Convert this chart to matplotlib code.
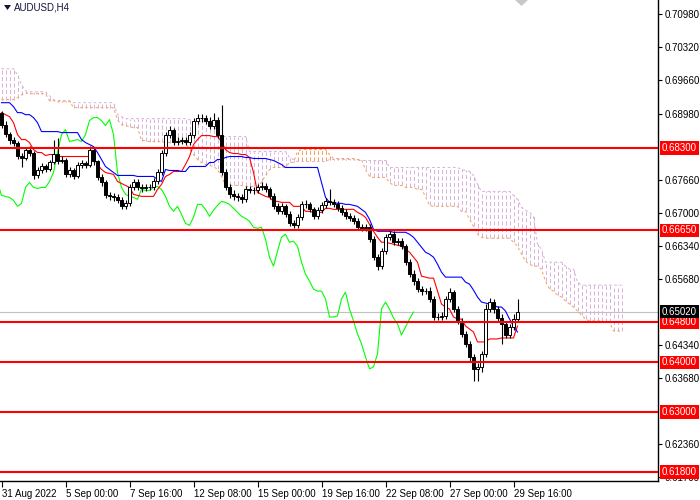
import numpy as np
import matplotlib
matplotlib.use("Agg")
import matplotlib.pyplot as plt
from matplotlib.patches import Polygon

plt.rcParams["font.family"] = ["Liberation Sans", "DejaVu Sans"]

# ── data (AUDUSD H4) ───────────────────────────────────────────────────────────
symbol = "AUDUSD,H4"
first_open = 0.6901

closes = [
    0.6877, 0.6859, 0.6847, 0.6841, 0.6815, 0.6811, 0.6827, 0.6821, 0.6775, 0.6785,
    0.6793, 0.6787, 0.6801, 0.6819, 0.6803, 0.6807, 0.6777, 0.6785, 0.6773, 0.6795,
    0.6799, 0.6795, 0.6827, 0.6803, 0.6771, 0.6761,
    0.6735, 0.6733, 0.6731, 0.6725, 0.6713, 0.6719, 0.6751, 0.6761, 0.6751, 0.6749,
    0.6751, 0.6751, 0.6763, 0.6781, 0.6821, 0.6857, 0.6867, 0.6843, 0.6845, 0.6847,
    0.6843, 0.6857, 0.6885, 0.6891, 0.6891, 0.6885, 0.6875, 0.6887, 0.6857, 0.6781,
    0.6751, 0.6737, 0.6733, 0.6731, 0.6727, 0.6747, 0.6745, 0.6745, 0.6751, 0.6753,
    0.6747, 0.6733, 0.6713, 0.6703, 0.6713, 0.6697, 0.6679, 0.6675, 0.6691, 0.6717,
    0.6717, 0.6707, 0.6693, 0.6705, 0.6715, 0.6723, 0.6721, 0.6717, 0.6709, 0.6701,
    0.6693, 0.6689, 0.6683, 0.6671, 0.6669, 0.6671, 0.6647, 0.6611, 0.6593, 0.6623,
    0.6651, 0.6657, 0.6641, 0.6643, 0.6633, 0.6601, 0.6577, 0.6563, 0.6547, 0.6543,
    0.6543, 0.6527, 0.6491, 0.6491, 0.6493, 0.6527, 0.6541, 0.6507, 0.6483, 0.6457,
    0.6437, 0.6411, 0.6387, 0.6391, 0.6417, 0.6507, 0.6521, 0.6507, 0.6489, 0.6477,
    0.6455, 0.6471, 0.6487, 0.6501,
]
highs = [
    0.6905, 0.6885, 0.6863, 0.6853, 0.6845, 0.6821, 0.6833, 0.6835, 0.6825, 0.6791,
    0.6799, 0.6797, 0.6807, 0.6847, 0.6851, 0.6815, 0.6811, 0.6791, 0.6789, 0.6801,
    0.6805, 0.6803, 0.6835, 0.6831, 0.6807, 0.6777, 0.6765, 0.6741, 0.6739, 0.6737,
    0.6731, 0.6725, 0.6757, 0.6767, 0.6767, 0.6757, 0.6757, 0.6757, 0.6769, 0.6787,
    0.6827, 0.6863, 0.6875, 0.6871, 0.6853, 0.6853, 0.6853, 0.6863, 0.6891, 0.6899,
    0.6899, 0.6897, 0.6893, 0.6901, 0.6893, 0.6917, 0.6787, 0.6757, 0.6745, 0.6739,
    0.6737, 0.6753, 0.6753, 0.6751, 0.6757, 0.6761, 0.6759, 0.6751, 0.6739, 0.6719,
    0.6719, 0.6717, 0.6703, 0.6685, 0.6697, 0.6723, 0.6725, 0.6721, 0.6711, 0.6711,
    0.6721, 0.6729, 0.6747, 0.6727, 0.6723, 0.6715, 0.6707, 0.6699, 0.6695, 0.6689,
    0.6677, 0.6677, 0.6677, 0.6653, 0.6617, 0.6629, 0.6657, 0.6663, 0.6663, 0.6649,
    0.6649, 0.6637, 0.6607, 0.6585, 0.6569, 0.6553, 0.6549, 0.6551, 0.6533, 0.6499,
    0.6501, 0.6533, 0.6549, 0.6545, 0.6513, 0.6489, 0.6463, 0.6443, 0.6417, 0.6399,
    0.6423, 0.6517, 0.6529, 0.6527, 0.6513, 0.6497, 0.6483, 0.6477, 0.6497, 0.6527,
]
lows = [
    0.6871, 0.6853, 0.6839, 0.6835, 0.6809, 0.6791, 0.6805, 0.6815, 0.6767, 0.6769,
    0.6779, 0.6781, 0.6783, 0.6797, 0.6797, 0.6799, 0.6771, 0.6771, 0.6767, 0.6769,
    0.6789, 0.6789, 0.6791, 0.6795, 0.6765, 0.6753, 0.6729, 0.6725, 0.6723, 0.6719,
    0.6707, 0.6707, 0.6713, 0.6745, 0.6745, 0.6741, 0.6743, 0.6745, 0.6745, 0.6757,
    0.6775, 0.6815, 0.6851, 0.6837, 0.6837, 0.6839, 0.6837, 0.6837, 0.6851, 0.6879,
    0.6883, 0.6879, 0.6869, 0.6869, 0.6851, 0.6775, 0.6745, 0.6729, 0.6725, 0.6723,
    0.6719, 0.6721, 0.6739, 0.6737, 0.6739, 0.6745, 0.6741, 0.6727, 0.6707, 0.6697,
    0.6697, 0.6691, 0.6673, 0.6669, 0.6669, 0.6685, 0.6709, 0.6701, 0.6687, 0.6687,
    0.6699, 0.6709, 0.6715, 0.6711, 0.6703, 0.6695, 0.6687, 0.6683, 0.6677, 0.6665,
    0.6663, 0.6663, 0.6641, 0.6605, 0.6585, 0.6587, 0.6617, 0.6645, 0.6635, 0.6635,
    0.6627, 0.6595, 0.6571, 0.6555, 0.6541, 0.6535, 0.6537, 0.6521, 0.6485, 0.6485,
    0.6485, 0.6487, 0.6521, 0.6501, 0.6477, 0.6451, 0.6431, 0.6403, 0.6363, 0.6363,
    0.6381, 0.6411, 0.6501, 0.6499, 0.6483, 0.6437, 0.6449, 0.6449, 0.6465, 0.6481,
]

# Ichimoku lines as shown on the chart
tenkan = [
    0.6901, 0.6897, 0.6893, 0.6881, 0.6857, 0.6847, 0.6847, 0.6841, 0.6827, 0.6821,
    0.6821, 0.6815, 0.6817, 0.6817, 0.6813, 0.6813, 0.6813, 0.6813, 0.6813, 0.6813,
    0.6813, 0.6813, 0.6813, 0.6811, 0.6797, 0.6787, 0.6781, 0.6779, 0.6777, 0.6763,
    0.6759, 0.6755, 0.6751, 0.6737, 0.6735, 0.6733, 0.6733, 0.6733, 0.6733, 0.6747,
    0.6757, 0.6773, 0.6777, 0.6783, 0.6783, 0.6783, 0.6797, 0.6813, 0.6837, 0.6847,
    0.6855, 0.6855, 0.6855, 0.6853, 0.6853, 0.6843, 0.6827, 0.6821, 0.6819, 0.6819,
    0.6817, 0.6817, 0.6811, 0.6781, 0.6741, 0.6737, 0.6733, 0.6731, 0.6723, 0.6723,
    0.6721, 0.6721, 0.6721, 0.6713, 0.6713, 0.6713, 0.6703, 0.6703, 0.6701, 0.6701,
    0.6701, 0.6709, 0.6709, 0.6707, 0.6707, 0.6707, 0.6707, 0.6707, 0.6707, 0.6701,
    0.6697, 0.6691, 0.6677, 0.6663, 0.6651, 0.6641, 0.6641, 0.6639, 0.6637, 0.6635,
    0.6633, 0.6627, 0.6621, 0.6611, 0.6601, 0.6573, 0.6571, 0.6569, 0.6569, 0.6543,
    0.6517, 0.6511, 0.6507, 0.6491, 0.6487, 0.6487, 0.6473, 0.6467, 0.6461, 0.6441,
    0.6441, 0.6441, 0.6447, 0.6447, 0.6447, 0.6449, 0.6449, 0.6449, 0.6449, 0.6473,
]
kijun = [
    0.6921, 0.6921, 0.6921, 0.6913, 0.6901, 0.6901, 0.6897, 0.6897, 0.6891, 0.6881,
    0.6863, 0.6863, 0.6863, 0.6863, 0.6863, 0.6861, 0.6861, 0.6861, 0.6861, 0.6861,
    0.6847, 0.6841, 0.6837, 0.6833, 0.6821, 0.6807, 0.6793, 0.6787, 0.6781, 0.6775,
    0.6775, 0.6775, 0.6775, 0.6775, 0.6773, 0.6773, 0.6773, 0.6773, 0.6773, 0.6767,
    0.6763, 0.6787, 0.6785, 0.6785, 0.6785, 0.6783, 0.6783, 0.6793, 0.6793, 0.6793,
    0.6793, 0.6793, 0.6801, 0.6801, 0.6807, 0.6807, 0.6811, 0.6813, 0.6813, 0.6813,
    0.6813, 0.6811, 0.6811, 0.6809, 0.6809, 0.6809, 0.6809, 0.6807, 0.6805, 0.6801,
    0.6797, 0.6791, 0.6791, 0.6791, 0.6791, 0.6791, 0.6791, 0.6791, 0.6791, 0.6791,
    0.6761, 0.6731, 0.6721, 0.6721, 0.6719, 0.6719, 0.6717, 0.6717, 0.6715, 0.6713,
    0.6707, 0.6701, 0.6687, 0.6667, 0.6663, 0.6663, 0.6663, 0.6663, 0.6661, 0.6661,
    0.6661, 0.6661, 0.6657, 0.6651, 0.6641, 0.6631, 0.6621, 0.6617, 0.6611, 0.6597,
    0.6581, 0.6571, 0.6571, 0.6571, 0.6571, 0.6571, 0.6561, 0.6557, 0.6545, 0.6531,
    0.6521, 0.6519, 0.6517, 0.6515, 0.6511, 0.6511, 0.6503, 0.6487, 0.6473, 0.6461,
]
span_a = [
    0.6927, 0.6927, 0.6927, 0.6927, 0.6931, 0.6937, 0.6941, 0.6939, 0.6939, 0.6939,
    0.6939, 0.6939, 0.6925, 0.6925, 0.6925, 0.6925, 0.6925, 0.6925, 0.6911, 0.6911,
    0.6911, 0.6911, 0.6911, 0.6911, 0.6911, 0.6911, 0.6911, 0.6911, 0.6911, 0.6887,
    0.6877, 0.6875, 0.6873, 0.6871, 0.6871, 0.6845, 0.6845, 0.6843, 0.6843, 0.6843,
    0.6843, 0.6841, 0.6841, 0.6841, 0.6841, 0.6841, 0.6841, 0.6827, 0.6817, 0.6807,
    0.6801, 0.6797, 0.6795, 0.6793, 0.6787, 0.6773, 0.6755, 0.6755, 0.6755, 0.6755,
    0.6755, 0.6753, 0.6753, 0.6753, 0.6753, 0.6761, 0.6775, 0.6787, 0.6791, 0.6791,
    0.6791, 0.6791, 0.6801, 0.6801, 0.6823, 0.6827, 0.6827, 0.6827, 0.6827, 0.6827,
    0.6827, 0.6827, 0.6817, 0.6809, 0.6809, 0.6809, 0.6809, 0.6809, 0.6809, 0.6807,
    0.6807, 0.6787, 0.6773, 0.6771, 0.6771, 0.6771, 0.6771, 0.6761, 0.6755, 0.6755,
    0.6755, 0.6751, 0.6751, 0.6751, 0.6747, 0.6747, 0.6733, 0.6715, 0.6713, 0.6713,
    0.6713, 0.6713, 0.6713, 0.6713, 0.6713, 0.6703, 0.6703, 0.6687, 0.6673, 0.6657,
    0.6651, 0.6649, 0.6649, 0.6649, 0.6649, 0.6649, 0.6649, 0.6649, 0.6641, 0.6633,
    0.6617, 0.6603, 0.6597, 0.6593, 0.6593, 0.6587, 0.6563, 0.6547, 0.6543, 0.6535,
    0.6531, 0.6523, 0.6517, 0.6511, 0.6503, 0.6495, 0.6487, 0.6483, 0.6483, 0.6483,
    0.6483, 0.6481, 0.6481, 0.6463, 0.6463, 0.6463,
]
span_b = [
    0.6989, 0.6989, 0.6989, 0.6989, 0.6977, 0.6957, 0.6945, 0.6943, 0.6943, 0.6943,
    0.6943, 0.6943, 0.6935, 0.6927, 0.6923, 0.6923, 0.6923, 0.6923, 0.6921, 0.6921,
    0.6921, 0.6921, 0.6921, 0.6921, 0.6921, 0.6921, 0.6921, 0.6921, 0.6921, 0.6897,
    0.6893, 0.6889, 0.6889, 0.6889, 0.6889, 0.6889, 0.6889, 0.6889, 0.6889, 0.6889,
    0.6889, 0.6889, 0.6889, 0.6889, 0.6889, 0.6889, 0.6889, 0.6887, 0.6883, 0.6883,
    0.6883, 0.6883, 0.6883, 0.6883, 0.6853, 0.6853, 0.6853, 0.6853, 0.6853, 0.6853,
    0.6853, 0.6853, 0.6823, 0.6823, 0.6823, 0.6823, 0.6823, 0.6823, 0.6823, 0.6823,
    0.6823, 0.6823, 0.6811, 0.6807, 0.6803, 0.6803, 0.6803, 0.6803, 0.6803, 0.6803,
    0.6803, 0.6803, 0.6807, 0.6807, 0.6807, 0.6807, 0.6807, 0.6807, 0.6807, 0.6805,
    0.6805, 0.6805, 0.6805, 0.6805, 0.6805, 0.6805, 0.6805, 0.6791, 0.6791, 0.6791,
    0.6791, 0.6791, 0.6791, 0.6791, 0.6791, 0.6791, 0.6791, 0.6791, 0.6791, 0.6791,
    0.6791, 0.6791, 0.6791, 0.6791, 0.6791, 0.6787, 0.6785, 0.6783, 0.6775, 0.6757,
    0.6743, 0.6743, 0.6743, 0.6743, 0.6743, 0.6743, 0.6743, 0.6743, 0.6735, 0.6727,
    0.6711, 0.6705, 0.6701, 0.6693, 0.6637, 0.6627, 0.6601, 0.6601, 0.6601, 0.6601,
    0.6601, 0.6593, 0.6587, 0.6587, 0.6561, 0.6555, 0.6555, 0.6555, 0.6555, 0.6555,
    0.6555, 0.6555, 0.6555, 0.6555, 0.6555, 0.6555,
]

levels = [0.6830, 0.6665, 0.6480, 0.6400, 0.6300, 0.6180]
current_price = 0.6502
price_ticks = [0.7098, 0.7032, 0.6966, 0.6898, 0.6766, 0.6700,
               0.6634, 0.6568, 0.6434, 0.6368, 0.6236, 0.6170]
time_tick_bars = [0, 16, 32, 48, 64, 80, 96, 112, 128]
time_tick_labels = ["31 Aug 2022", "5 Sep 00:00", "7 Sep 16:00", "12 Sep 08:00",
                    "15 Sep 00:00", "19 Sep 16:00", "22 Sep 08:00",
                    "27 Sep 00:00", "29 Sep 16:00"]
shift = 26

# ── build arrays ──────────────────────────────────────────────────────────────
c = np.array(closes)
o = np.concatenate([[first_open], c[:-1]])
h = np.maximum(np.array(highs), np.maximum(o, c))
l = np.minimum(np.array(lows), np.minimum(o, c))
idx = np.arange(len(c))
sa = np.array(span_a)
sb = np.array(span_b)
cidx = np.arange(len(sa))

THISTLE = "#d8b4dc"
SANDY = "#f4a460"

fig = plt.figure(figsize=(7, 5), dpi=100)
ax = fig.add_axes([0, 19 / 500, 658 / 700, 481 / 500])

# cloud hatch + borders (1px dotted verticals, like the terminal)
up = sb >= sa
ax.vlines(cidx[up], sa[up], sb[up], colors=THISTLE, linewidth=0.72,
          linestyles=[(0, (4, 2.5))], zorder=1)
ax.vlines(cidx[~up], sb[~up], sa[~up], colors=SANDY, linewidth=0.72,
          linestyles=[(0, (4, 2.5))], zorder=1)
ax.plot(cidx, sb, color=THISTLE, lw=0.75, ls=(0, (2.5, 2.5)), zorder=1)
ax.plot(cidx, sa, color=SANDY, lw=0.75, ls=(0, (2.5, 2.5)), zorder=1)

# current price line
ax.axhline(current_price, color="#c0c0c0", lw=0.8, zorder=1.5)

# indicator lines
ax.plot(idx - shift, c, color="#00ff00", lw=0.8, zorder=2)
ax.plot(idx, tenkan, color="#ff0000", lw=0.8, zorder=2)
ax.plot(idx, kijun, color="#0000ff", lw=0.8, zorder=2)

# candles
ax.vlines(idx, l, h, colors="black", linewidth=0.8, zorder=3)
bull = c >= o
ax.bar(idx[bull], (c - o)[bull], bottom=o[bull], width=0.7,
       color="white", edgecolor="black", linewidth=0.7, zorder=4)
ax.bar(idx[~bull], (o - c)[~bull], bottom=c[~bull], width=0.7,
       color="black", edgecolor="black", linewidth=0.7, zorder=4)

# horizontal levels
for lev in levels:
    ax.axhline(lev, color="#ff0000", lw=1.5, zorder=5)

# bar i sits on a pixel centre (1.5 + 4 i px)
ax.set_xlim(-0.375, 164.125)
ax.set_ylim(0.6162, 0.7127)

# axes cosmetics
for side in ["left", "top"]:
    ax.spines[side].set_visible(False)
for side in ["right", "bottom"]:
    ax.spines[side].set_linewidth(1.0)
    ax.spines[side].set_color("black")

ax.yaxis.tick_right()
ax.set_yticks(price_ticks)
ax.set_yticklabels([f"{v:.5f}" for v in price_ticks])
ax.tick_params(axis="y", direction="out", length=3, width=0.8, pad=2,
               labelsize=7, colors="black")
ax.set_xticks(time_tick_bars)
ax.set_xticklabels(time_tick_labels)
ax.tick_params(axis="x", direction="out", length=4, width=0.8, pad=2,
               labelsize=7, colors="black")
for lbl in ax.get_xticklabels():
    lbl.set_horizontalalignment("left")

# boxed price labels on the right scale
ytr = ax.get_yaxis_transform()
for lev in levels:
    ax.text(1.006, lev, f"{lev:.5f}", transform=ytr, va="center", ha="left",
            fontsize=7, color="white", clip_on=False, zorder=6,
            bbox=dict(boxstyle="square,pad=0.18", fc="#ff0000", ec="none"))
ax.text(1.006, current_price, f"{current_price:.5f}", transform=ytr,
        va="center", ha="left", fontsize=7, color="white", clip_on=False,
        zorder=6, bbox=dict(boxstyle="square,pad=0.18", fc="black", ec="none"))

# symbol caption and markers
fig.text(14 / 700, 1 - 8 / 500, symbol, fontsize=7, color="#14143c",
         va="center", ha="left")
fig.add_artist(Polygon([(4 / 700, 1 - 5 / 500), (11 / 700, 1 - 5 / 500),
                        (7.5 / 700, 1 - 10 / 500)], closed=True,
                       transform=fig.transFigure, fc="#14143c", ec="none"))
fig.add_artist(Polygon([(515 / 700, 1.0), (528 / 700, 1.0),
                        (521.5 / 700, 1 - 6 / 500)], closed=True,
                       transform=fig.transFigure, fc="#c8c8c8", ec="none"))

fig.savefig("out.png", dpi=100)
plt.close(fig)
